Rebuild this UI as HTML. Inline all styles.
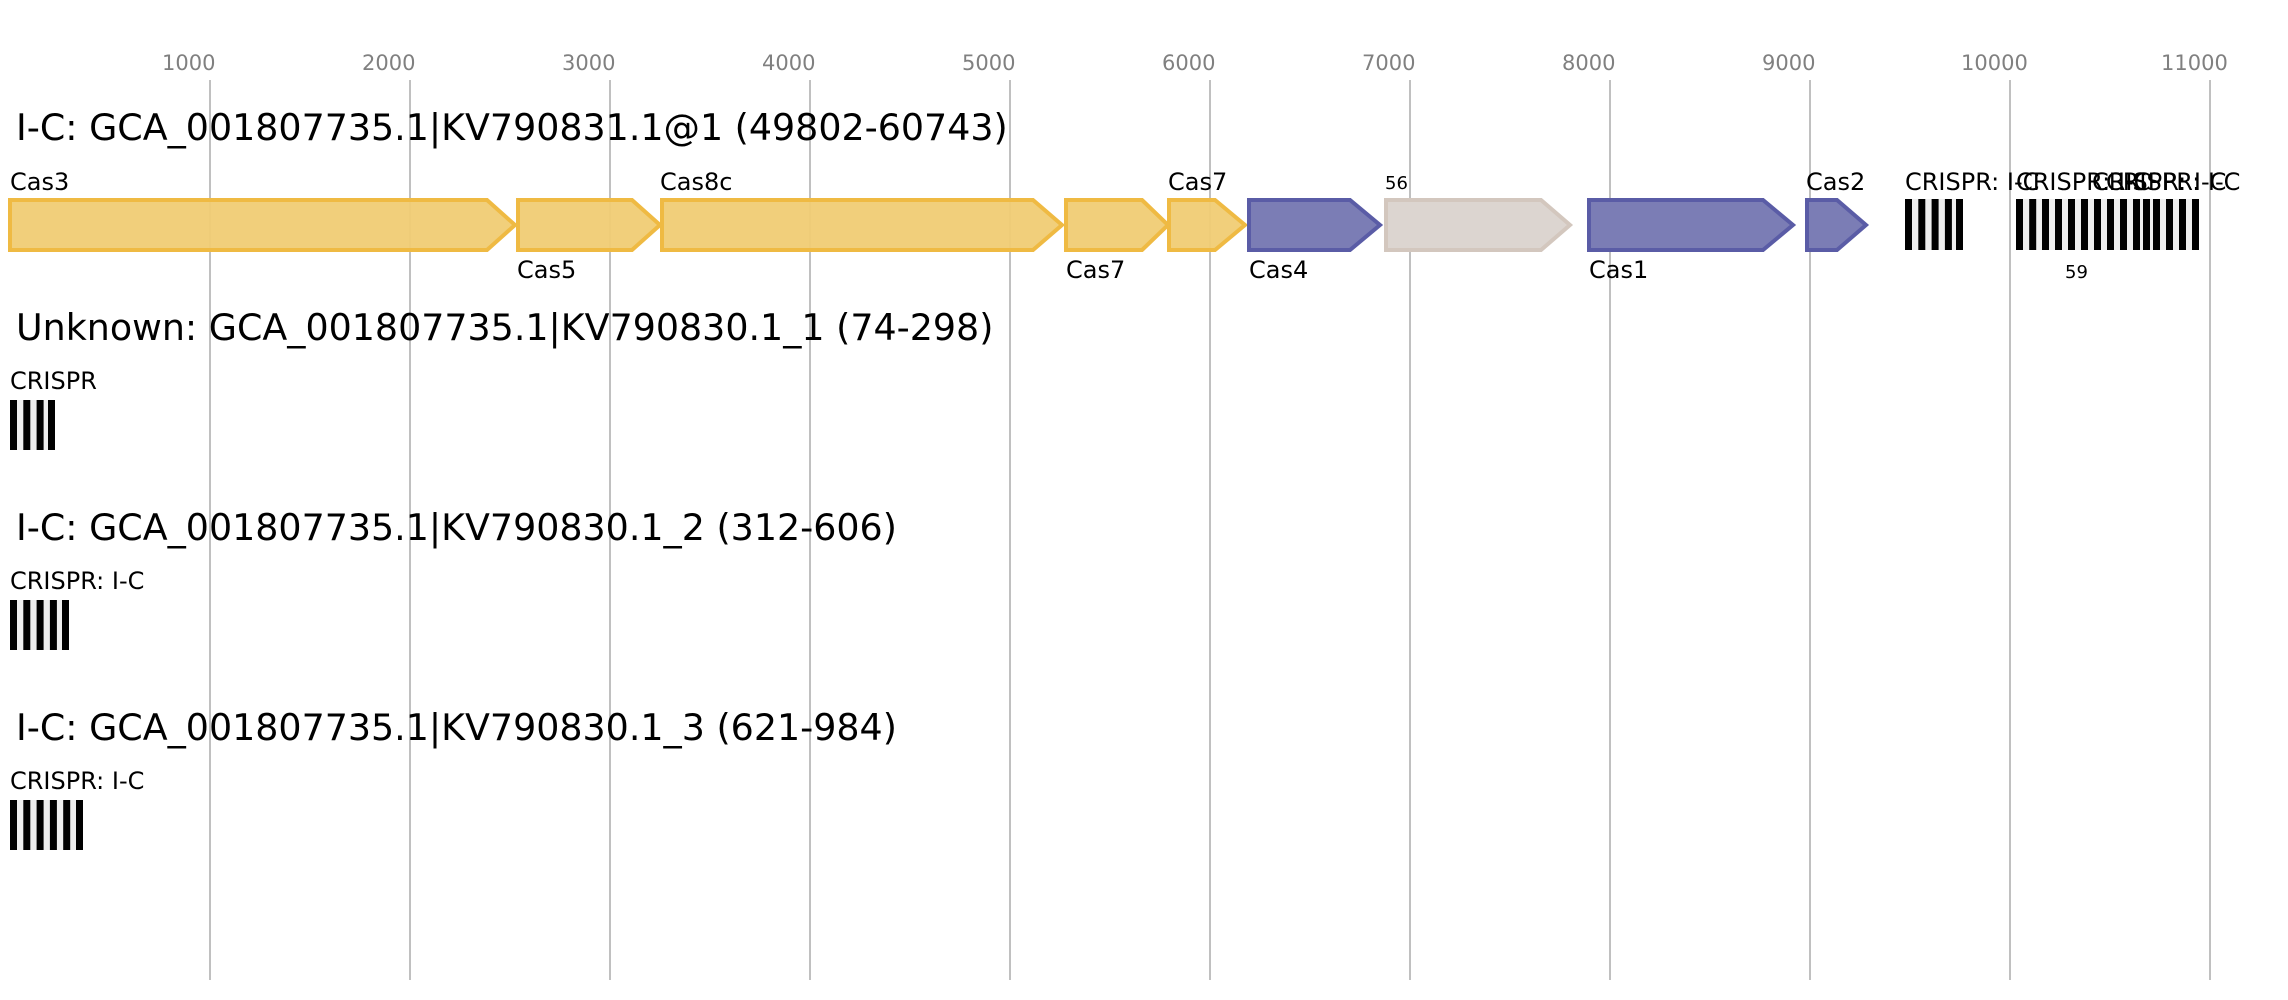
<!DOCTYPE html>
<html><head><meta charset="utf-8"><style>
html,body{margin:0;padding:0;background:#fff;}
svg{display:block;}
text{font-family:"DejaVu Sans","Liberation Sans",sans-serif;}
</style></head><body>
<svg width="2288" height="1000" viewBox="0 0 2288 1000" xmlns="http://www.w3.org/2000/svg">
<g stroke="#c0c0c0" stroke-width="2">
<line x1="210" y1="80" x2="210" y2="980"/>
<line x1="410" y1="80" x2="410" y2="980"/>
<line x1="610" y1="80" x2="610" y2="980"/>
<line x1="810" y1="80" x2="810" y2="980"/>
<line x1="1010" y1="80" x2="1010" y2="980"/>
<line x1="1210" y1="80" x2="1210" y2="980"/>
<line x1="1410" y1="80" x2="1410" y2="980"/>
<line x1="1610" y1="80" x2="1610" y2="980"/>
<line x1="1810" y1="80" x2="1810" y2="980"/>
<line x1="2010" y1="80" x2="2010" y2="980"/>
<line x1="2210" y1="80" x2="2210" y2="980"/>
</g>
<g fill="#808080" font-size="21">
<text x="162" y="70">1000</text>
<text x="362" y="70">2000</text>
<text x="562" y="70">3000</text>
<text x="762" y="70">4000</text>
<text x="962" y="70">5000</text>
<text x="1162" y="70">6000</text>
<text x="1362" y="70">7000</text>
<text x="1562" y="70">8000</text>
<text x="1762" y="70">9000</text>
<text x="1961" y="70">10000</text>
<text x="2161" y="70">11000</text>
</g>
<g fill="#000" font-size="36.4">
<text x="16" y="140">I-C: GCA_001807735.1|KV790831.1@1 (49802-60743)</text>
<text x="16" y="340">Unknown: GCA_001807735.1|KV790830.1_1 (74-298)</text>
<text x="16" y="540">I-C: GCA_001807735.1|KV790830.1_2 (312-606)</text>
<text x="16" y="740">I-C: GCA_001807735.1|KV790830.1_3 (621-984)</text>
</g>
<g stroke-width="4" stroke-linejoin="miter">
<g fill="#f0cc74" fill-opacity="0.95" stroke="#efba43">
<polygon points="10,200 487,200 515,225 487,250 10,250"/>
<polygon points="518,200 632,200 660,225 632,250 518,250"/>
<polygon points="662,200 1033,200 1062,225 1033,250 662,250"/>
<polygon points="1066,200 1142,200 1168,225 1142,250 1066,250"/>
<polygon points="1169,200 1215,200 1245,225 1215,250 1169,250"/>
</g>
<g fill="#7b7db5" stroke="#5a5ca6">
<polygon points="1249,200 1350,200 1380,225 1350,250 1249,250"/>
<polygon points="1589,200 1763,200 1793,225 1763,250 1589,250"/>
<polygon points="1807,200 1837,200 1866,225 1837,250 1807,250"/>
</g>
<polygon points="1386,200 1541,200 1570,225 1541,250 1386,250" fill="#dcd5d0" stroke="#d3c7be"/>
</g>
<g fill="#000" font-size="24">
<text x="10" y="190">Cas3</text>
<text x="517" y="278">Cas5</text>
<text x="660" y="190">Cas8c</text>
<text x="1066" y="278">Cas7</text>
<text x="1168" y="190">Cas7</text>
<text x="1249" y="278">Cas4</text>
<text x="1589" y="278">Cas1</text>
<text x="1806" y="190">Cas2</text>
<text x="1905" y="190">CRISPR: I-C</text>
<text x="2016" y="190">CRISPR: I-C</text>
<text x="2092" y="190">CRISPR: I-C</text>
<text x="2106" y="190">CRISPR: I-C</text>
<text x="10" y="389">CRISPR</text>
<text x="10" y="589">CRISPR: I-C</text>
<text x="10" y="789">CRISPR: I-C</text>
</g>
<text x="1385" y="189" font-size="18" fill="#000">56</text>
<text x="2065" y="278" font-size="18" fill="#000">59</text>
<g fill="#eeeeee">
<rect x="1905" y="199" width="58" height="51"/>
<rect x="2016" y="199" width="183" height="51"/>
<rect x="10" y="400" width="45" height="50"/>
<rect x="10" y="600" width="59" height="50"/>
<rect x="10" y="800" width="73" height="50"/>
</g>
<g fill="#000">
<rect x="1905" y="199" width="7" height="51"/><rect x="1918.3" y="199" width="7" height="51"/><rect x="1931.6" y="199" width="7" height="51"/><rect x="1944.9" y="199" width="7" height="51"/><rect x="1956" y="199" width="7" height="51"/>
<rect x="2016" y="199" width="7" height="51"/><rect x="2029.2" y="199" width="7" height="51"/><rect x="2042" y="199" width="7" height="51"/><rect x="2055" y="199" width="7" height="51"/><rect x="2068" y="199" width="7" height="51"/><rect x="2081" y="199" width="7" height="51"/><rect x="2094" y="199" width="7" height="51"/><rect x="2107" y="199" width="7" height="51"/><rect x="2120" y="199" width="7" height="51"/><rect x="2133" y="199" width="7" height="51"/><rect x="2143" y="199" width="7" height="51"/><rect x="2153" y="199" width="7" height="51"/><rect x="2166" y="199" width="7" height="51"/><rect x="2179" y="199" width="7" height="51"/><rect x="2192" y="199" width="7" height="51"/>
<rect x="10" y="400" width="7" height="50"/><rect x="23.3" y="400" width="7" height="50"/><rect x="36.6" y="400" width="7" height="50"/><rect x="48" y="400" width="7" height="50"/>
<rect x="10" y="600" width="7" height="50"/><rect x="23.3" y="600" width="7" height="50"/><rect x="36.6" y="600" width="7" height="50"/><rect x="49.9" y="600" width="7" height="50"/><rect x="62" y="600" width="7" height="50"/>
<rect x="10" y="800" width="7" height="50"/><rect x="23.3" y="800" width="7" height="50"/><rect x="36.6" y="800" width="7" height="50"/><rect x="49.9" y="800" width="7" height="50"/><rect x="63.2" y="800" width="7" height="50"/><rect x="76" y="800" width="7" height="50"/>
</g>
</svg>
</body></html>
